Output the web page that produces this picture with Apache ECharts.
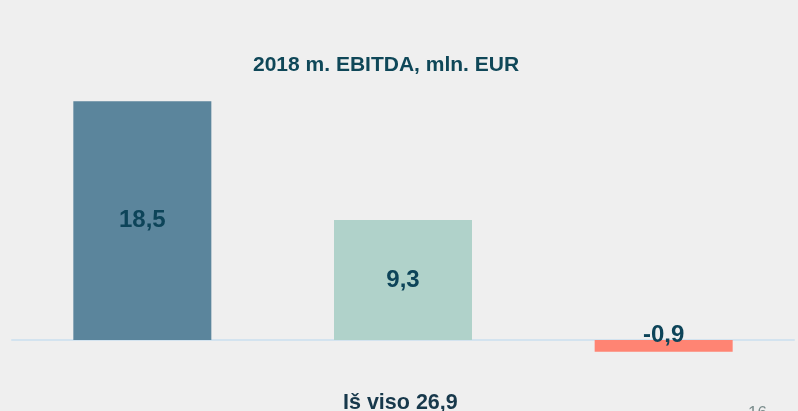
<!DOCTYPE html>
<html>
<head>
<meta charset="utf-8">
<script src="https://cdn.jsdelivr.net/npm/echarts@6/dist/echarts.min.js"></script>
<style>
  html, body { margin: 0; padding: 0; background: #efefef; }
  #main { width: 798px; height: 411px; }
</style>
</head>
<body>
<div id="main"></div>
<script>
// EBITDA 2018 pagal segmentus, mln. EUR
const categories = ['A', 'B', 'C'];
const values = [18.5, 9.3, -0.9];
const barColors = ['#5b859c', '#b0d2ca', '#ff8473'];
const chartTitle = '2018 m. EBITDA, mln. EUR';
const totalText = 'Iš viso 26,9';
const pageNo = '16';

let myChart = echarts.init(document.getElementById('main'));
let option = {
  backgroundColor: '#efefef',
  animation: false,
  title: [
    {
      text: chartTitle,
      left: 248,
      top: 50,
      textStyle: { fontFamily: 'Liberation Sans', fontSize: 21, fontWeight: 'bold', color: '#0f4758' }
    },
    {
      text: totalText,
      left: 338,
      top: 387,
      textStyle: { fontFamily: 'Liberation Sans', fontSize: 21.5, fontWeight: 'bold', color: '#17384b' }
    },
    {
      text: pageNo,
      left: 743,
      top: 400,
      textStyle: { fontFamily: 'Liberation Sans', fontSize: 17, fontWeight: 'normal', color: '#7a8c8c' }
    }
  ],
  grid: { left: 12, right: 4, top: 82, bottom: 58 },
  xAxis: {
    type: 'category',
    data: categories,
    axisLine: { lineStyle: { color: '#d3e3ef', width: 2 } },
    axisTick: { show: false },
    axisLabel: { show: false }
  },
  yAxis: {
    type: 'value',
    min: -1,
    max: 20,
    show: false,
    splitLine: { show: false }
  },
  series: [
    {
      type: 'bar',
      barWidth: 138,
      data: values.map((v, i) => ({
        value: v,
        itemStyle: { color: barColors[i] },
        label: v < 0 ? { position: 'top', distance: -7 } : {}
      })),
      label: {
        show: true,
        position: 'inside',
        fontFamily: 'Liberation Sans',
        fontSize: 24,
        fontWeight: 'bold',
        color: '#0d4459',
        formatter: p => String(p.value).replace('.', ',')
      }
    }
  ]
};
myChart.setOption(option);
</script>
</body>
</html>
